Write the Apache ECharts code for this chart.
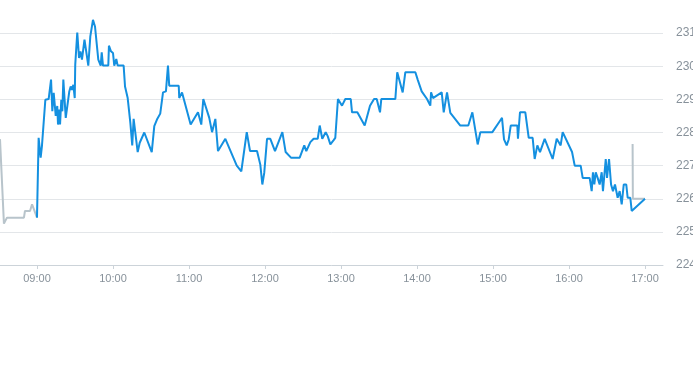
<!DOCTYPE html>
<html>
<head>
<meta charset="utf-8">
<script src="https://cdn.jsdelivr.net/npm/echarts@6/dist/echarts.min.js"></script>
<style>html,body{margin:0;padding:0;background:#fff;}#c{width:693px;height:365px;}</style>
</head>
<body>
<div id="c"></div>
<script>
// minutes relative to 09:00
var preMinutes = [-29.2, -26.1, -23.7, -10.3, -9.5, -5.5, -3.9, -2.4, 0];
var preValues  = [227.8, 225.25, 225.43, 225.43, 225.63, 225.63, 225.83, 225.68, 225.43];

var mainMinutes = [0, 1.3, 2.9, 3.9, 5.0, 6.6, 9.2, 11.1, 12.1, 13.2, 14.8, 16.0, 16.6, 17.6, 18.2, 19.2, 20.0, 20.8, 21.6, 22.7,
  24.2, 25.5, 26.6, 27.6, 28.7, 29.8, 30.2, 31.8, 33.2, 34.3, 35.5, 36.2, 37.5, 38.9, 40.5, 42.1, 44.2, 45.8, 48.4, 49.5,
  50.3, 51.1, 52.1, 56.3, 56.8, 58.4, 60.0, 61.0, 62.6, 63.7, 68.4, 69.5, 71.6, 73.7, 75.2, 76.3, 77.4, 79.5, 81.1, 84.7,
  90.6, 92.6, 94.7, 97.3, 99.5, 100.5, 101.8, 103.4, 104.4, 111.9, 112.3, 114.5, 121.3, 127.1, 129.7, 131.3, 136.0, 138.2, 140.8, 141.9,
  142.9, 148.7, 154.5, 157.7, 161.3, 162.4, 165.6, 168.2, 173.7, 174.7, 176.3, 177.9, 179.4, 181.6, 184.2, 187.9, 193.7, 196.3, 200.5, 207.4,
  211.0, 212.6, 215.8, 218.4, 221.6, 223.2, 225.2, 227.9, 229.5, 231.6, 234.2, 235.5, 237.6, 240.8, 243.4, 247.7, 248.7, 252.9, 258.7, 262.9,
  266.1, 268.2, 270.8, 271.8, 282.9, 284.4, 288.7, 290.8, 298.7, 300.6, 303.7, 307.9, 310.5, 311.1, 312.6, 319.5, 321.1, 323.7, 326.3, 334.2,
  340.5, 343.7, 347.9, 350.0, 359.5, 365.3, 367.1, 368.7, 370.8, 372.4, 374.0, 379.2, 379.7, 381.3, 385.5, 388.2, 391.3, 392.9, 395.0, 397.1,
  400.8, 407.1, 410.3, 413.4, 415.0, 422.4, 424.5, 429.2, 430.8, 436.3, 437.9, 438.9, 440.0, 441.1, 442.6, 444.2, 445.8, 446.8, 449.0, 450.0,
  451.6, 453.2, 454.7, 456.3, 458.4, 460.0, 461.6, 463.2, 465.2, 466.3, 468.4, 469.5, 480.0];
var mainValues = [225.43, 227.84, 227.24, 227.59, 227.59, 228.99, 229.01, 229.6, 228.64, 229.2, 228.5, 228.8, 228.24, 228.69, 228.24, 228.99, 228.64, 229.6, 229.6, 228.44,
  228.44, 229.24, 229.39, 229.29, 229.44, 229.04, 230.05, 231.02, 230.25, 230.45, 230.2, 230.2, 230.8, 230.8, 230.02, 230.9, 231.4, 231.2, 230.2, 230.2,
  230.02, 230.42, 230.02, 230.02, 230.62, 230.45, 230.4, 230.02, 230.22, 230.02, 230.02, 229.39, 229.04, 228.29, 227.61, 228.41, 228.39, 227.41, 227.69, 228.0,
  227.41, 228.19, 228.39, 228.57, 229.21, 229.24, 229.24, 230.02, 229.41, 229.41, 229.04, 229.21, 228.24, 228.61, 228.24, 229.01, 228.44, 228.01, 228.41, 228.41,
  227.44, 227.81, 227.29, 227.0, 226.83, 226.83, 228.01, 227.44, 227.44, 227.41, 227.03, 226.43, 226.78, 227.81, 227.81, 227.44, 228.01, 227.41, 227.24, 227.24,
  227.61, 227.44, 227.71, 227.81, 227.81, 228.21, 227.81, 228.01, 227.89, 227.64, 227.77, 227.84, 229.01, 228.81, 229.01, 229.01, 228.61, 228.61, 228.21, 228.81,
  229.01, 229.01, 228.61, 229.01, 229.01, 229.82, 229.21, 229.82, 229.82, 229.59, 229.24, 229.01, 228.81, 229.21, 229.04, 229.21, 228.61, 229.21, 228.59, 228.21,
  228.21, 228.61, 227.64, 228.01, 228.01, 228.34, 228.44, 227.79, 227.61, 227.79, 228.21, 228.21, 227.81, 228.61, 228.61, 227.84, 227.84, 227.2, 227.61, 227.41,
  227.81, 227.2, 227.81, 227.61, 228.01, 227.41, 227.0, 227.0, 226.63, 226.63, 226.23, 226.8, 226.43, 226.8, 226.63, 226.43, 226.8, 226.23, 227.2, 226.63,
  227.2, 226.43, 226.23, 226.43, 226.03, 226.23, 225.83, 226.43, 226.43, 226.03, 226.03, 225.63, 226.0];

var postMinutes = [470.2, 470.4, 480.0];
var postValues  = [227.65, 226.0, 226.0];

var yTicks = [224, 225, 226, 227, 228, 229, 230, 231];

var base = new Date(2024, 0, 2, 9, 0, 0).getTime();
function toPairs(mins, vals) {
  return mins.map(function (m, i) { return [base + Math.round(m * 60000), vals[i]]; });
}
var axisMin = base - Math.round(29.2 * 60000);
var axisMax = base + Math.round(494.2 * 60000);

var chart = echarts.init(document.getElementById('c'), null, { renderer: 'canvas' });
chart.setOption({
  animation: false,
  grid: { left: 0, right: 30, top: 0, bottom: 100, containLabel: false, outerBoundsMode: 'none' },
  xAxis: {
    type: 'time',
    min: axisMin,
    max: axisMax,
    minInterval: 3600000,
    maxInterval: 3600000,
    axisLine: { show: true, lineStyle: { color: '#ccd3d9', width: 1 } },
    axisTick: { show: true, length: 4, lineStyle: { color: '#ccd3d9' } },
    axisLabel: {
      color: '#87919a', fontSize: 11, fontFamily: 'Liberation Sans, Arial, sans-serif', margin: 8,
      formatter: function (v) {
        var d = new Date(v);
        var h = d.getHours(), m = d.getMinutes();
        return (h < 10 ? '0' + h : h) + ':' + (m < 10 ? '0' + m : m);
      },
      hideOverlap: false
    },
    splitLine: { show: false }
  },
  yAxis: {
    type: 'value',
    position: 'right',
    min: yTicks[0],
    max: 232,
    interval: 1,
    axisLine: { show: false },
    axisTick: { show: false },
    axisLabel: { color: '#87919a', fontSize: 12, fontFamily: 'Liberation Sans, Arial, sans-serif', margin: 13, showMaxLabel: false },
    splitLine: { show: true, showMaxLine: false, lineStyle: { color: '#e3e6e9', width: 1 } }
  },
  series: [
    { type: 'line', data: toPairs(preMinutes, preValues), showSymbol: false, symbol: 'none',
      lineStyle: { color: '#b8c4cb', width: 2 }, z: 2 },
    { type: 'line', data: toPairs(postMinutes, postValues), showSymbol: false, symbol: 'none',
      lineStyle: { color: '#b8c4cb', width: 2 }, z: 2 },
    { type: 'line', data: toPairs(mainMinutes, mainValues), showSymbol: false, symbol: 'none',
      lineStyle: { color: '#1490e0', width: 2 }, z: 3 }
  ]
});
</script>
</body>
</html>
